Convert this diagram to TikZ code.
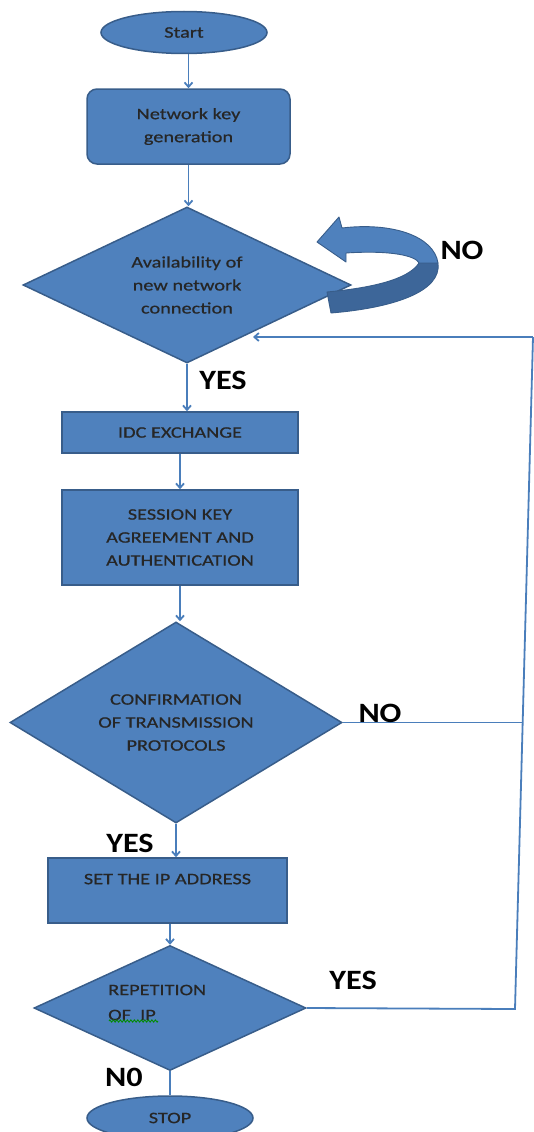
\documentclass[tikz,border=0pt]{standalone}
\usepackage{fontspec}
\setmainfont{Carlito}
\newfontfamily\bodyf[FakeStretch=1.27,FakeBold=0.6]{Carlito}
\newfontfamily\labf[FakeStretch=1.15]{Carlito}
\usetikzlibrary{shapes.geometric,arrows.meta,decorations.pathmorphing}
\definecolor{fillb}{HTML}{4F81BD}
\definecolor{edgeb}{HTML}{385D8A}
\definecolor{lineb}{HTML}{4A7EBB}
\definecolor{darkb}{HTML}{3D6699}
\tikzset{
  base/.style={fill=fillb, draw=edgeb, line width=1.5pt, inner sep=0pt,
    font=\bodyf\fontsize{16}{23}\selectfont, align=center, text=black!85},
  term/.style={base, ellipse},
  proc/.style={base, rectangle},
  dec/.style={base, diamond},
  arr/.style={draw=lineb, line width=1.8pt, -{Straight Barb[length=4.5pt,width=8pt]}},
  conn/.style={draw=lineb, line width=1.8pt},
  lab/.style={font=\labf\bfseries\fontsize{28}{30}\selectfont, text=black, inner sep=0pt},
  curv/.style={draw=edgeb, line width=0.9pt, line join=round}
}
\begin{document}
\begin{tikzpicture}[x=1pt,y=-1pt]
\clip (0,0) rectangle (534,1132);

% nodes
\node[term, minimum width=166pt, minimum height=42pt] (start) at (184,32.5) {Start};
\node[proc, rounded corners=10pt, minimum width=203pt, minimum height=75pt] (net) at (188.5,126.5) {Network key\\generation};
\node[dec, minimum width=328pt, minimum height=156pt, shape aspect=2.1] (d1) at (187,285) {Availability of\\new network\\connection};
\node[proc, minimum width=236pt, minimum height=41pt] (idc) at (180,432.5) {IDC EXCHANGE};
\node[proc, minimum width=236pt, minimum height=95pt] (sess) at (180,537.5) {SESSION KEY\\AGREEMENT AND\\AUTHENTICATION};
\node[dec, minimum width=332pt, minimum height=201pt, shape aspect=1.65] (d2) at (176,722.5) {CONFIRMATION\\OF TRANSMISSION\\PROTOCOLS};
\node[proc, minimum width=239pt, minimum height=65pt] (ip) at (167.5,890.5) {SET THE IP ADDRESS\\\mbox{}};
\node[dec, minimum width=272pt, minimum height=125pt, shape aspect=2.2] (d3) at (170,1008) {};
\node[anchor=west, align=left, inner sep=0pt, text=black!85, font=\bodyf\fontsize{16}{25}\selectfont] (d3t) at (108,1002.5) {REPETITION\\OF\ \ IP};
\node[term, minimum width=166pt, minimum height=44pt] (stop) at (170,1118) {STOP};

% green spell-check squiggle
\draw[green!55!black, line width=0.9pt, decorate, decoration={zigzag, amplitude=1.1pt, segment length=3.5pt}] (109,1021) -- (158,1021);

% curved block arrow (NO loop)
\fill[darkb] (327,292) .. controls (370,288) and (408,280) .. (419,263) -- (438,263)
  .. controls (442,292) and (392,308) .. (331,313) -- cycle;
\draw[curv] (327,292) .. controls (370,288) and (408,280) .. (419,263) -- (438,263)
  .. controls (442,292) and (392,308) .. (331,313) -- cycle;
\fill[fillb] (342,228) .. controls (392,222) and (434,236) .. (438,263) -- (419,263)
  .. controls (416,256) and (392,250) .. (346,253) -- (346,262) -- (317,242) -- (339,217) -- cycle;
\draw[curv] (342,228) .. controls (392,222) and (434,236) .. (438,263) -- (419,263)
  .. controls (416,256) and (392,250) .. (346,253) -- (346,262) -- (317,242) -- (339,217) -- cycle;

% connectors
\draw[arr] (net.north |- start.south) -- (net.north);
\draw[arr] (net.south) -- (net.south |- d1.north);
\draw[arr] (d1.south) -- (d1.south |- idc.north);
\draw[arr] (idc.south) -- (sess.north);
\draw[arr] (sess.south) -- (sess.south |- d2.north);
\draw[arr] (d2.south) -- (d2.south |- ip.north);
\draw[arr] (d3.north |- ip.south) -- (d3.north);
\draw[conn] (d3.south) -- (stop.north);

\coordinate (r3) at (515,1009);
\coordinate (r1) at (533,337);
\coordinate (r2) at (522.5,722.5);
\coordinate (tip) at (253,337);
\draw[conn] (d3.east) -- (r3) -- (r1);
\draw[arr] (r1) -- (tip);
\draw[conn] (d2.east) -- (r2);

% labels
\node[lab] (no1) at (462,250) {NO};
\node[lab] (yes1) at (223,380) {YES};
\node[lab] (no2) at (380,713) {NO};
\node[lab] (yes2) at (130,843) {YES};
\node[lab] (yes3) at (353,980) {YES};
\node[lab] (no3) at (124,1077) {N0};
\end{tikzpicture}
\end{document}
